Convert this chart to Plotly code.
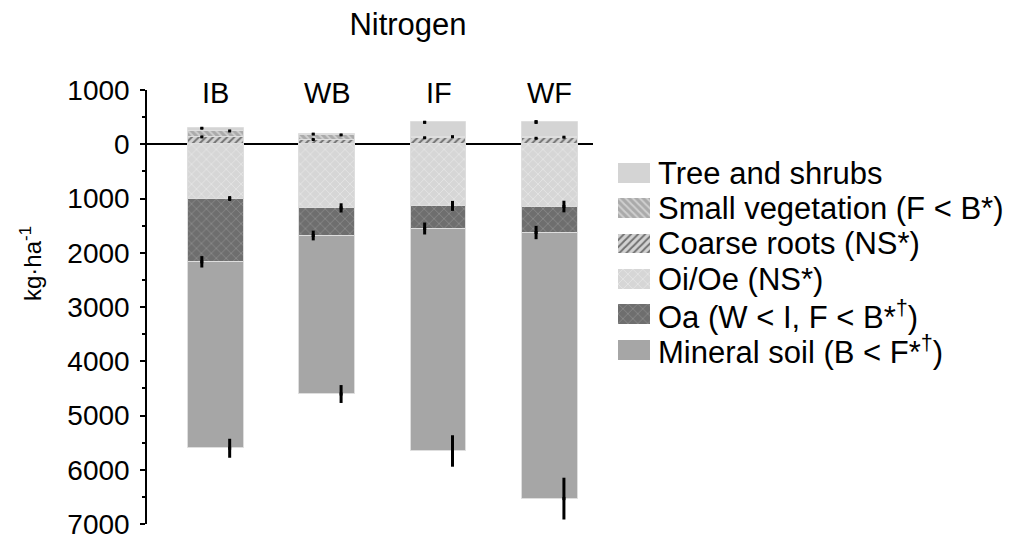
import numpy as np
import plotly.graph_objects as go

# ---------------- data ----------------
sites = ["IB", "WB", "IF", "WF"]
# above-ground pools (kg/ha, plotted upward)
coarse_roots = [135, 87, 120, 110]
small_veg = [110, 85, 20, 20]
trees = [50, 15, 265, 280]
# below-ground pools (kg/ha, plotted downward)
oi_oe = [1000, 1173, 1136, 1148]
oa = [1167, 509, 417, 479]
mineral = [3437, 2922, 4101, 4905]
# standard errors
err_coarse = [10, 10, 10, 10]
err_small = [10, 10, 10, 10]
err_trees = [15, 10, 25, 35]
err_oi = [45, 85, 92, 107]
err_oa = [105, 90, 110, 123]
err_mineral = [175, 165, 290, 385]

legend_labels = [
    "Tree and shrubs",
    "Small vegetation (F &lt; B*)",
    "Coarse roots (NS*)",
    "Oi/Oe (NS*)",
    "Oa (W &lt; I, F &lt; B*<sup>†</sup>)",
    "Mineral soil (B &lt; F*<sup>†</sup>)",
]
y_tickvals = [1000, 0, -1000, -2000, -3000, -4000, -5000, -6000, -7000]
y_ticktext = ["1000", "0", "1000", "2000", "3000", "4000", "5000", "6000", "7000"]

# ---------------- styles ----------------
FONT = "Liberation Sans, Arial, sans-serif"
styles = {
    "trees": dict(color="#d4d4d4"),
    "small": dict(color="#aaaaaa", pattern=dict(shape="\\", fgcolor="#f4f4f4", bgcolor="#aaaaaa", size=5, solidity=0.4)),
    "coarse": dict(color="#d2d2d2", pattern=dict(shape="/", fgcolor="#111111", bgcolor="#d2d2d2", size=5, solidity=0.4)),
    "oi": dict(color="#d6d6d6", pattern=dict(shape="x", fgcolor="#f2f2f2", bgcolor="#d6d6d6", size=7, solidity=0.25)),
    "oa": dict(color="#6e6e6e", pattern=dict(shape="x", fgcolor="#a2a2a2", bgcolor="#6e6e6e", size=7, solidity=0.25)),
    "mineral": dict(color="#a6a6a6"),
}

x = np.arange(len(sites))
fig = go.Figure()

def add_bar(vals, key, sign):
    fig.add_trace(go.Bar(
        x=x, y=sign * np.array(vals), width=0.5,
        marker=dict(line=dict(color="#dedede", width=1), **styles[key]),
        showlegend=False, hoverinfo="skip",
    ))

add_bar(coarse_roots, "coarse", 1)
add_bar(small_veg, "small", 1)
add_bar(trees, "trees", 1)
add_bar(oi_oe, "oi", -1)
add_bar(oa, "oa", -1)
add_bar(mineral, "mineral", -1)

# error bars at stack boundaries, alternating left / right quarter of bar
c1 = np.array(coarse_roots)
c2 = c1 + np.array(small_veg)
c3 = c2 + np.array(trees)
b1 = -np.array(oi_oe)
b2 = b1 - np.array(oa)
b3 = b2 - np.array(mineral)
for yy, ee, off in [
    (c3, err_trees, -0.125), (c2, err_small, 0.125), (c1, err_coarse, -0.125),
    (b1, err_oi, 0.125), (b2, err_oa, -0.125), (b3, err_mineral, 0.125),
]:
    fig.add_trace(go.Scatter(
        x=x + off, y=yy, mode="markers",
        marker=dict(size=3, color="black", symbol="square"),
        error_y=dict(type="data", array=ee, visible=True, color="black", thickness=3, width=0),
        showlegend=False, hoverinfo="skip",
    ))

# custom legend drawn on an inset axis
legend_keys = ["trees", "small", "coarse", "oi", "oa", "mineral"]
for i, key in enumerate(legend_keys):
    fig.add_trace(go.Bar(
        x=[1], y=[i], orientation="h", width=0.56, xaxis="x2", yaxis="y2",
        marker=dict(line=dict(width=0), **styles[key]),
        showlegend=False, hoverinfo="skip",
    ))
    fig.add_annotation(
        x=(656 - 147) / 863, xref="paper", y=i, yref="y2",
        text=legend_labels[i], showarrow=False, xanchor="left", yanchor="middle",
        font=dict(family=FONT, size=31, color="black"),
    )

# category labels above bars
for i, s in enumerate(sites):
    fig.add_annotation(
        x=i, y=940, xref="x", yref="y", text=s, showarrow=False,
        font=dict(family=FONT, size=29, color="black"), yanchor="middle",
    )

# y-axis title
fig.add_annotation(
    x=(31 - 147) / 863, xref="paper", y=(525 - 264) / 434, yref="paper",
    xanchor="center", yanchor="middle",
    text="kg·ha<sup>-1</sup>", textangle=-90, showarrow=False,
    font=dict(family=FONT, size=24, color="black"),
)

fig.update_layout(
    width=1010, height=537,
    margin=dict(l=147, r=0, t=90, b=13),
    paper_bgcolor="white", plot_bgcolor="white",
    barmode="relative", bargap=0,
    title=dict(text="Nitrogen", x=408 / 1010, xanchor="center", y=1 - 24 / 537, yanchor="middle",
               yref="container", font=dict(family=FONT, size=31, color="black")),
    xaxis=dict(domain=[0, 446 / 863], range=[-0.617, 3.386], showgrid=False, zeroline=False,
               showline=False, showticklabels=False, ticks=""),
    yaxis=dict(range=[-7000, 1000], tickmode="array", tickvals=y_tickvals, ticktext=y_ticktext,
               automargin=False, ticklabeloverflow="allow", ticklabelstandoff=5,
               showgrid=False, zeroline=True, zerolinecolor="black", zerolinewidth=2,
               showline=True, linecolor="black", linewidth=1.5, ticks="outside", ticklen=5,
               tickwidth=1.5, tickcolor="black",
               minor=dict(tickmode="linear", tick0=0, dtick=500, ticks="outside", ticklen=3,
                          tickwidth=1.5, tickcolor="black"),
               tickfont=dict(family=FONT, size=28, color="black")),
    xaxis2=dict(domain=[(618 - 147) / 863, (650 - 147) / 863], range=[0, 1], anchor="y2",
                visible=False, fixedrange=True),
    yaxis2=dict(domain=[(524 - 367.7) / 434, (524 - 155.3) / 434], range=[5.5, -0.5], anchor="x2",
                visible=False, fixedrange=True),
    showlegend=False,
)

fig.write_html("out.html", config={"displayModeBar": False},
               post_script="document.body.style.margin='0';document.body.style.padding='0';")
